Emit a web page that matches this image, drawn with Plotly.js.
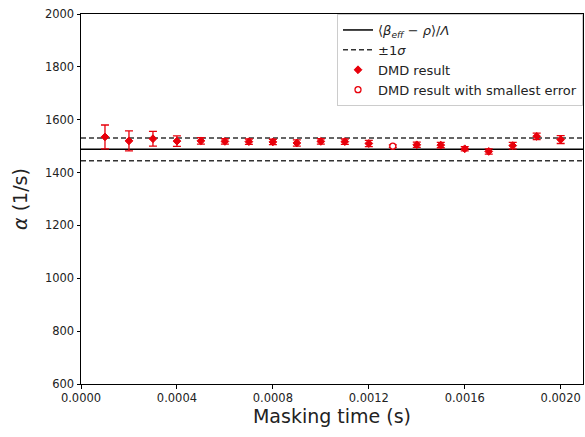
<!DOCTYPE html>
<html>
<head>
<meta charset="utf-8">
<script src="https://cdn.plot.ly/plotly-3.0.1.min.js"></script>
<style>html,body{margin:0;padding:0;background:#fff;}#chart{width:585px;height:437px;}</style>
</head>
<body>
<div id="chart"></div>
<script>
// Masking times (s)
const maskingTime = [0.0001,0.0002,0.0003,0.0004,0.0005,0.0006,0.0007,0.0008,0.0009,0.0010,
                     0.0011,0.0012,0.0013,0.0014,0.0015,0.0016,0.0017,0.0018,0.0019,0.0020];
// DMD alpha results (1/s)
const alphaDMD = [1535,1520,1528,1519,1520,1518,1517,1516,1512,1518,
                  1517,1510,1500,1505,1504,1490,1480,1502,1537,1525];
// DMD alpha uncertainties (1/s)
const alphaErr = [45,38,28,20,12,10,10,10,12,10,
                  10,12,5,10,10,8,10,12,12,15];
// Index of result with smallest error
const bestIndex = 12;
// Reference value and 1-sigma band
const alphaRef = 1488;
const alphaSigma = 43;
const xRange = [0, 0.002093];
const yRange = [600, 2000];
const xTicks = [0, 0.0004, 0.0008, 0.0012, 0.0016, 0.0020];
const yTicks = [600, 800, 1000, 1200, 1400, 1600, 1800, 2000];

const mainX = maskingTime.filter((_, i) => i !== bestIndex);
const mainY = alphaDMD.filter((_, i) => i !== bestIndex);
const mainE = alphaErr.filter((_, i) => i !== bestIndex);

const traces = [
  {x: xRange, y: [alphaRef, alphaRef], mode: 'lines', name: '⟨<i>β</i><sub><i>eff</i></sub> − <i>ρ</i>⟩/<i>Λ</i>',
   line: {color: '#000', width: 1.5}, hoverinfo: 'skip'},
  {x: xRange, y: [alphaRef + alphaSigma, alphaRef + alphaSigma], mode: 'lines', name: '±1<i>σ</i>',
   line: {color: '#333', width: 1.5, dash: '5px,3px'}, legendgroup: 's'},
  {x: xRange, y: [alphaRef - alphaSigma, alphaRef - alphaSigma], mode: 'lines', name: '±1σ',
   line: {color: '#333', width: 1.5, dash: '5px,3px'}, legendgroup: 's', showlegend: false},
  {x: mainX, y: mainY, mode: 'markers', name: 'DMD result',
   marker: {color: '#e8000b', size: 6, symbol: 'diamond', line: {color: '#e8000b', width: 1}},
   error_y: {type: 'data', array: mainE, visible: true, color: '#e8000b', thickness: 1.3, width: 4}},
  {x: [maskingTime[bestIndex]], y: [alphaDMD[bestIndex]], mode: 'markers', name: 'DMD result with smallest error',
   marker: {color: '#fff', size: 6, symbol: 'circle', line: {color: '#e8000b', width: 1.3}},
   error_y: {type: 'data', array: [alphaErr[bestIndex]], visible: true, color: '#e8000b', thickness: 1.3, width: 4}}
];

const layout = {
  width: 585, height: 437,
  margin: {l: 81, r: 2, t: 14, b: 53},
  paper_bgcolor: '#fff', plot_bgcolor: '#fff',
  font: {family: 'DejaVu Sans, sans-serif', color: '#222', size: 11.5},
  showlegend: true,
  legend: {x: 1, xanchor: 'right', y: 1, yanchor: 'top', bgcolor: 'rgba(255,255,255,0.9)',
           bordercolor: '#ccc', borderwidth: 1, font: {size: 13, color: '#222'},
           tracegroupgap: 0, itemwidth: 30},
  xaxis: {range: xRange, tickvals: xTicks, ticktext: xTicks.map(v => v.toFixed(4)),
          showgrid: false, zeroline: false, showline: true, linecolor: '#000', linewidth: 1, mirror: true,
          ticks: 'outside', ticklen: 3.5, tickcolor: '#000',
          title: {text: 'Masking time (s)', font: {size: 19, color: '#222'}, standoff: 4}},
  yaxis: {range: yRange, tickvals: yTicks, showgrid: false, zeroline: false, showline: true,
          linecolor: '#000', linewidth: 1, mirror: true, ticks: 'outside', ticklen: 3.5, tickcolor: '#000',
          title: {text: '<i>α</i> (1/s)', font: {size: 19, color: '#222'}, standoff: 12}}
};

Plotly.newPlot('chart', traces, layout, {displayModeBar: false, staticPlot: true});
</script>
</body>
</html>
